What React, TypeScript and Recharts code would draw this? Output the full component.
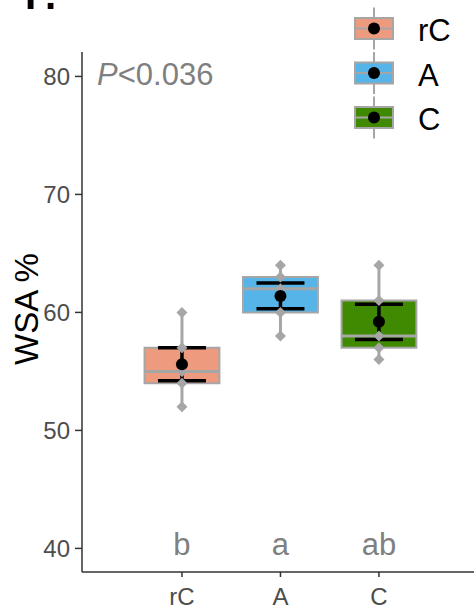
import React from 'react';
import {
  ComposedChart,
  XAxis,
  YAxis,
  Scatter,
  ErrorBar,
  ReferenceArea,
  ReferenceLine,
  Customized
} from 'recharts';

const categories = ['rC', 'A', 'C'];
const boxColors = ['#EE9A7E', '#56B4E9', '#3F8A00'];

// raw observations per group
const rCPoints = [60, 57, 55, 54, 52];
const aPoints = [64, 63, 62, 60, 58];
const cPoints = [64, 61, 58, 57, 56];
const groupPoints = [rCPoints, aPoints, cPoints];

// box stats
const whiskerLow = [52, 58, 56];
const q1 = [54, 60, 57];
const medians = [55, 62, 58];
const q3 = [57, 63, 61];
const whiskerHigh = [60, 64, 64];

// mean +/- SE
const means = [55.6, 61.4, 59.2];
const stdErr = [1.4, 1.1, 1.5];

const letters = ['b', 'a', 'ab'];
const yTicks = [40, 50, 60, 70, 80];

const FONT = '"Liberation Sans", Arial, sans-serif';
const GREY = '#A6A6A6';
const BOX_HALF = 0.38;
const LETTER_LEVEL = 39.45;

const pointData = groupPoints.flatMap((vals, i) => vals.map(v => ({ x: i + 1, y: v })));
const meanData = means.map((m, i) => ({ x: i + 1, y: m, err: stdErr[i] }));
const letterData = letters.map((l, i) => ({ x: i + 1, y: LETTER_LEVEL, label: l }));

const Diamond = (props: any) => {
  const { cx, cy } = props;
  const r = 5.5;
  return (
    <polygon
      points={`${cx},${cy - r} ${cx + r},${cy} ${cx},${cy + r} ${cx - r},${cy}`}
      fill={GREY}
    />
  );
};

const MeanDot = (props: any) => <circle cx={props.cx} cy={props.cy} r={6} fill="#000" />;

const LetterMark = (props: any) => (
  <text
    x={props.cx}
    y={props.cy}
    textAnchor="middle"
    fontFamily={FONT}
    fontSize={31}
    fill="#808080"
  >
    {props.payload.label}
  </text>
);

const Overlay = () => (
  <g fontFamily={FONT}>
    <text x={25} y={9} fontSize={40} fontWeight="bold" fill="#000">F.</text>
    <text x={97} y={85} fontSize={31} fill="#7F7F7F">
      <tspan fontStyle="italic">P</tspan>
      <tspan>{'<0.036'}</tspan>
    </text>
    <text
      x={0}
      y={0}
      transform="translate(38, 309) rotate(-90)"
      textAnchor="middle"
      fontSize={33}
      fill="#000"
    >
      WSA %
    </text>
    {categories.map((c, i) => {
      const cy = 28.5 + i * 44.5;
      return (
        <g key={c}>
          <line x1={374} x2={374} y1={cy - 21} y2={cy + 21} stroke={GREY} strokeWidth={2} />
          <rect x={355} y={cy - 10.5} width={38} height={21} fill={boxColors[i]} stroke={GREY} strokeWidth={2} />
          <line x1={355} x2={393} y1={cy} y2={cy} stroke={GREY} strokeWidth={2} />
          <circle cx={374} cy={cy} r={6} fill="#000" />
          <text x={418} y={cy + 2} dominantBaseline="central" fontSize={31} fill="#000">{c}</text>
        </g>
      );
    })}
  </g>
);

export default function App() {
  return (
    <div style={{ position: 'absolute', left: 0, top: 0, width: 474, height: 605, background: '#fff' }}>
      <ComposedChart width={474} height={605} margin={{ top: 52, right: 0, left: 0, bottom: 0 }}>
        <XAxis
          dataKey="x"
          type="number"
          domain={[-0.015, 3.965]}
          ticks={[1, 2, 3]}
          tickFormatter={(v: number) => categories[v - 1]}
          height={33}
          axisLine={{ stroke: '#333', strokeWidth: 1.5 }}
          tickLine={{ stroke: '#333', strokeWidth: 1.5 }}
          tickSize={5}
          tickMargin={11}
          tick={{ fill: '#4D4D4D', fontSize: 24, fontFamily: FONT }}
          allowDataOverflow
        />
        <YAxis
          dataKey="y"
          type="number"
          domain={[38.0, 82.07]}
          ticks={yTicks}
          width={82}
          axisLine={{ stroke: '#333', strokeWidth: 1.5 }}
          tickLine={{ stroke: '#333', strokeWidth: 1.5 }}
          tickSize={7}
          tickMargin={5}
          tick={{ fill: '#4D4D4D', fontSize: 24, fontFamily: FONT }}
          allowDataOverflow
        />
        {categories.map((c, i) => (
          <ReferenceLine
            key={`wl-${c}`}
            segment={[{ x: i + 1, y: whiskerLow[i] }, { x: i + 1, y: q1[i] }]}
            stroke={GREY}
            strokeWidth={3}
          />
        ))}
        {categories.map((c, i) => (
          <ReferenceLine
            key={`wh-${c}`}
            segment={[{ x: i + 1, y: q3[i] }, { x: i + 1, y: whiskerHigh[i] }]}
            stroke={GREY}
            strokeWidth={3}
          />
        ))}
        {categories.map((c, i) => (
          <ReferenceArea
            key={`box-${c}`}
            x1={i + 1 - BOX_HALF}
            x2={i + 1 + BOX_HALF}
            y1={q1[i]}
            y2={q3[i]}
            fill={boxColors[i]}
            fillOpacity={1}
            stroke={GREY}
            strokeWidth={2}
          />
        ))}
        {categories.map((c, i) => (
          <ReferenceLine
            key={`med-${c}`}
            segment={[{ x: i + 1 - BOX_HALF, y: medians[i] }, { x: i + 1 + BOX_HALF, y: medians[i] }]}
            stroke={GREY}
            strokeWidth={3}
          />
        ))}
        <Scatter data={pointData} shape={Diamond} isAnimationActive={false} />
        <Scatter data={meanData} shape={MeanDot} isAnimationActive={false}>
          <ErrorBar dataKey="err" direction="y" width={24} stroke="#000" strokeWidth={3.5} />
        </Scatter>
        <Scatter data={letterData} shape={LetterMark} isAnimationActive={false} />
        <Customized component={Overlay} />
      </ComposedChart>
    </div>
  );
}
